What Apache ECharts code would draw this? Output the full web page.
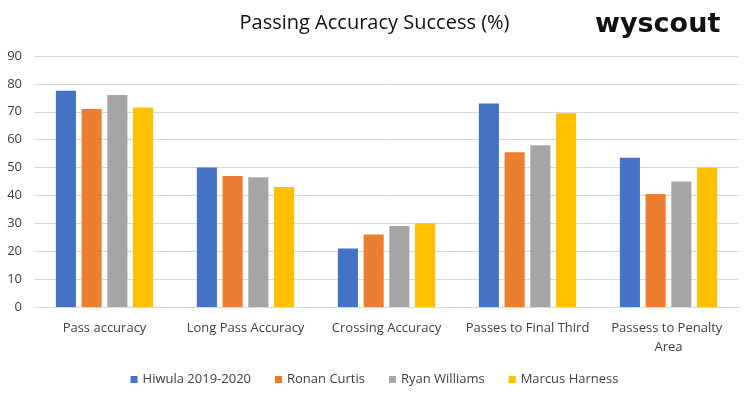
<!DOCTYPE html>
<html>
<head>
<meta charset="utf-8">
<script src="https://cdn.jsdelivr.net/npm/echarts@6/dist/echarts.min.js"></script>
<style>html,body{margin:0;padding:0;background:#fff}#c{width:749px;height:395px}</style>
</head>
<body>
<div id="c"></div>
<script>
var categories = ["Pass accuracy", "Long Pass Accuracy", "Crossing Accuracy", "Passes to Final Third", "Passess to Penalty Area"];
var seriesNames = ["Hiwula 2019-2020", "Ronan Curtis", "Ryan Williams", "Marcus Harness"];
var hiwula = [77.5, 50, 21, 73, 53.5];
var curtis = [71, 47, 26, 55.5, 40.5];
var williams = [76, 46.5, 29, 58, 45];
var harness = [71.5, 43, 30, 69.5, 50];
var colors = ["#4472C4", "#ED7D31", "#A5A5A5", "#FFC000"];

var chart = echarts.init(document.getElementById('c'));
var font = "Open Sans";
var allData = [hiwula, curtis, williams, harness];
chart.setOption({
  animation: false,
  color: colors,
  title: {
    text: "Passing Accuracy Success (%)",
    left: 'center',
    top: 8,
    textStyle: { fontFamily: font, fontSize: 20, fontWeight: 'normal', color: '#111' }
  },
  graphic: [{
    type: 'text',
    left: 595,
    top: 11,
    style: { text: 'wyscout', fontFamily: 'DejaVu Sans', fontWeight: 'bold', fontSize: 27, fill: '#111', letterSpacing: -1 }
  }],
  legend: {
    bottom: 4,
    left: 'center',
    itemWidth: 7,
    itemHeight: 7,
    itemGap: 24,
    icon: 'rect',
    textStyle: { fontFamily: font, fontSize: 13, color: '#404040' },
    data: seriesNames
  },
  grid: { left: 34, right: 10, top: 56, bottom: 88, containLabel: false },
  xAxis: {
    type: 'category',
    data: categories,
    axisLine: { lineStyle: { color: '#D9D9D9', width: 1 } },
    axisTick: { show: false },
    axisLabel: {
      interval: 0, margin: 12, fontFamily: font, fontSize: 13, color: '#404040',
      width: 128, overflow: 'break', lineHeight: 19
    }
  },
  yAxis: {
    type: 'value',
    min: 0, max: 90, interval: 10,
    axisLine: { show: false },
    axisTick: { show: false },
    splitLine: { lineStyle: { color: '#D9D9D9', width: 1 } },
    axisLabel: { fontFamily: font, fontSize: 13, color: '#404040', margin: 12 }
  },
  series: seriesNames.map(function (n, i) {
    return {
      name: n, type: 'bar', data: allData[i],
      barGap: '28%', barCategoryGap: '31%'
    };
  })
});
</script>
</body>
</html>
